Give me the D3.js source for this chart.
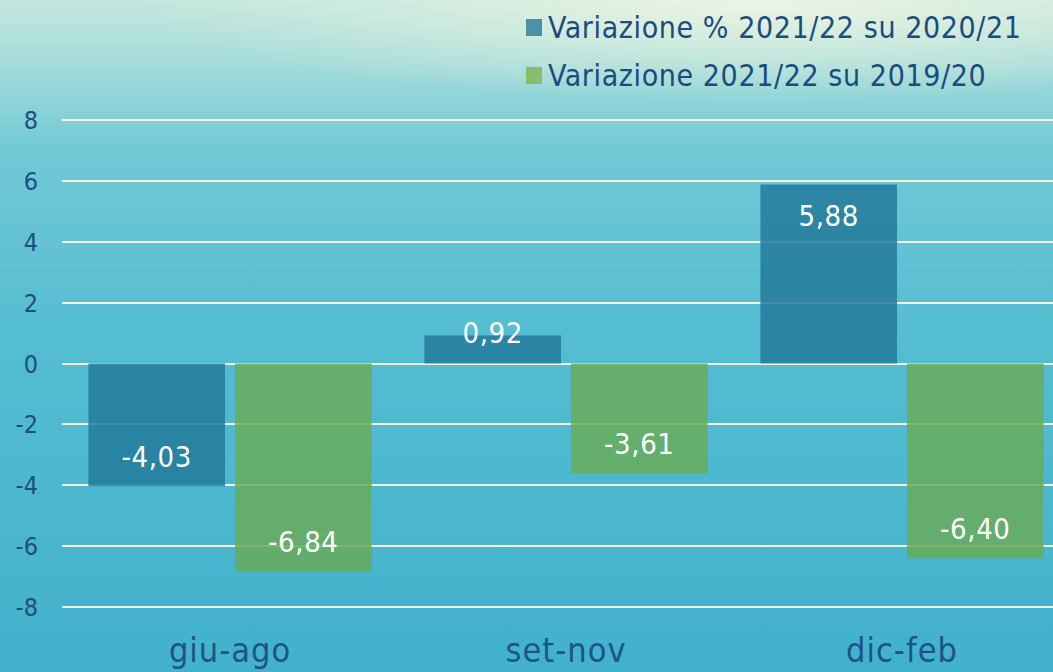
<!doctype html>
<html>
<head>
    <meta charset="utf-8">
    <title>Variazione</title>
    <style>
        html, body {
            margin: 0;
            padding: 0;
            overflow: hidden;
        }

        text {
            font-family: "DejaVu Sans Condensed", "DejaVu Sans", sans-serif;
        }

        .grid line {
            stroke: #f6f1d8;
            stroke-width: 2;
            shape-rendering: crispEdges;
        }

        .y-label {
            fill: #1d4f7c;
            font-size: 25px;
        }

        .x-label {
            fill: #1c5586;
            font-size: 34px;
            letter-spacing: 1px;
        }

        .value-label {
            fill: #ffffff;
            font-size: 29px;
            letter-spacing: 0.6px;
        }

        .legend-label {
            fill: #1b4c7e;
            font-size: 30px;
            letter-spacing: 0.6px;
        }
    </style>
</head>
<body>
    <div id="chart"></div>

    <script src="https://cdn.jsdelivr.net/npm/d3@7"></script>
    <script>
        var categories = ['giu-ago', 'set-nov', 'dic-feb'];
        var series_names = ['Variazione % 2021/22 su 2020/21', 'Variazione 2021/22 su 2019/20'];
        var values_2020 = [-4.03, 0.92, 5.88];
        var values_2019 = [-6.84, -3.61, -6.40];
        var y_ticks = [-8, -6, -4, -2, 0, 2, 4, 6, 8];

        var svg_width = 1053;
        var svg_height = 672;

        var colors = ['#237a9b', '#69ac5a'];
        var legend_colors = ['#4a91a9', '#88bd6c'];

        var margin = { left: 62, right: -17, top: 120, bottom: 65 };

        var svg = d3.select('#chart').append('svg')
            .attr('width', svg_width)
            .attr('height', svg_height);

        // background
        var defs = svg.append('defs');
        var lin = defs.append('linearGradient')
            .attr('id', 'bg')
            .attr('x1', 0).attr('y1', 0).attr('x2', 0).attr('y2', 1);
        [[0, '#c4e7dd'], [0.1, '#a2dbd9'], [0.22, '#72c9d5'], [0.5, '#54bdd1'], [1, '#42b1cc']]
            .forEach(function(d) {
                lin.append('stop').attr('offset', d[0]).attr('stop-color', d[1]);
            });

        var glow = defs.append('radialGradient')
            .attr('id', 'glow')
            .attr('cx', 0.72).attr('cy', 0).attr('r', 0.6);
        glow.append('stop').attr('offset', 0).attr('stop-color', '#f0f5e4').attr('stop-opacity', 0.95);
        glow.append('stop').attr('offset', 0.5).attr('stop-color', '#e2f1e0').attr('stop-opacity', 0.55);
        glow.append('stop').attr('offset', 1).attr('stop-color', '#d8efe2').attr('stop-opacity', 0);

        svg.append('rect')
            .attr('width', svg_width)
            .attr('height', svg_height)
            .attr('fill', 'url(#bg)');

        svg.append('rect')
            .attr('width', svg_width)
            .attr('height', 170)
            .attr('fill', 'url(#glow)');

        var x = d3.scaleBand()
            .domain(categories)
            .range([margin.left, svg_width - margin.right]);

        var x_inner = d3.scaleBand()
            .domain([0, 1])
            .range([0, x.bandwidth()])
            .paddingInner(0.068)
            .paddingOuter(0.18);

        var y = d3.scaleLinear()
            .domain([-8, 8])
            .range([607, 120]);

        // grid
        svg.append('g')
            .attr('class', 'grid')
            .selectAll('line')
            .data(y_ticks)
          .enter().append('line')
            .attr('x1', margin.left)
            .attr('x2', svg_width)
            .attr('y1', function(d) { return Math.round(y(d)); })
            .attr('y2', function(d) { return Math.round(y(d)); });

        // y axis labels
        svg.append('g')
            .selectAll('text')
            .data(y_ticks)
          .enter().append('text')
            .attr('class', 'y-label')
            .attr('x', 38)
            .attr('y', function(d) { return y(d); })
            .attr('dy', '0.36em')
            .attr('text-anchor', 'end')
            .text(function(d) { return d; });

        var bar_data = [];
        categories.forEach(function(c, i) {
            bar_data.push({ cat: c, s: 0, v: values_2020[i] });
            bar_data.push({ cat: c, s: 1, v: values_2019[i] });
        });

        var fmt = function(v) {
            return v.toFixed(2).replace('.', ',');
        };

        var bars = svg.append('g')
            .selectAll('g')
            .data(bar_data)
          .enter().append('g')
            .attr('transform', function(d) {
                return 'translate(' + (x(d.cat) + x_inner(d.s)) + ',0)';
            });

        bars.append('rect')
            .attr('width', x_inner.bandwidth())
            .attr('y', function(d) { return y(Math.max(0, d.v)); })
            .attr('height', function(d) { return Math.abs(y(d.v) - y(0)); })
            .attr('fill', function(d) { return colors[d.s]; })
            .attr('opacity', 0.85);

        bars.append('text')
            .attr('class', 'value-label')
            .attr('x', x_inner.bandwidth() / 2)
            .attr('y', function(d) {
                if (d.v >= 0) {
                    return Math.min(y(d.v) + 31, y(0) - 31);
                }
                return Math.max(y(d.v) - 30, y(0) + 31);
            })
            .attr('dy', '0.36em')
            .attr('text-anchor', 'middle')
            .text(function(d) { return fmt(d.v); });

        // x labels
        svg.append('g')
            .selectAll('text')
            .data(categories)
          .enter().append('text')
            .attr('class', 'x-label')
            .attr('x', function(d) { return x(d) + x.bandwidth() / 2; })
            .attr('y', 662)
            .attr('text-anchor', 'middle')
            .text(function(d) { return d; });

        // legend
        var legend = svg.append('g')
            .selectAll('g')
            .data(series_names)
          .enter().append('g')
            .attr('transform', function(d, i) {
                return 'translate(526,' + (19 + i * 48) + ')';
            });

        legend.append('rect')
            .attr('width', 16)
            .attr('height', 17)
            .attr('fill', function(d, i) { return legend_colors[i]; });

        legend.append('text')
            .attr('class', 'legend-label')
            .attr('x', 22)
            .attr('y', 8.5)
            .attr('dy', '0.36em')
            .text(function(d) { return d; });
    </script>
</body>
</html>
